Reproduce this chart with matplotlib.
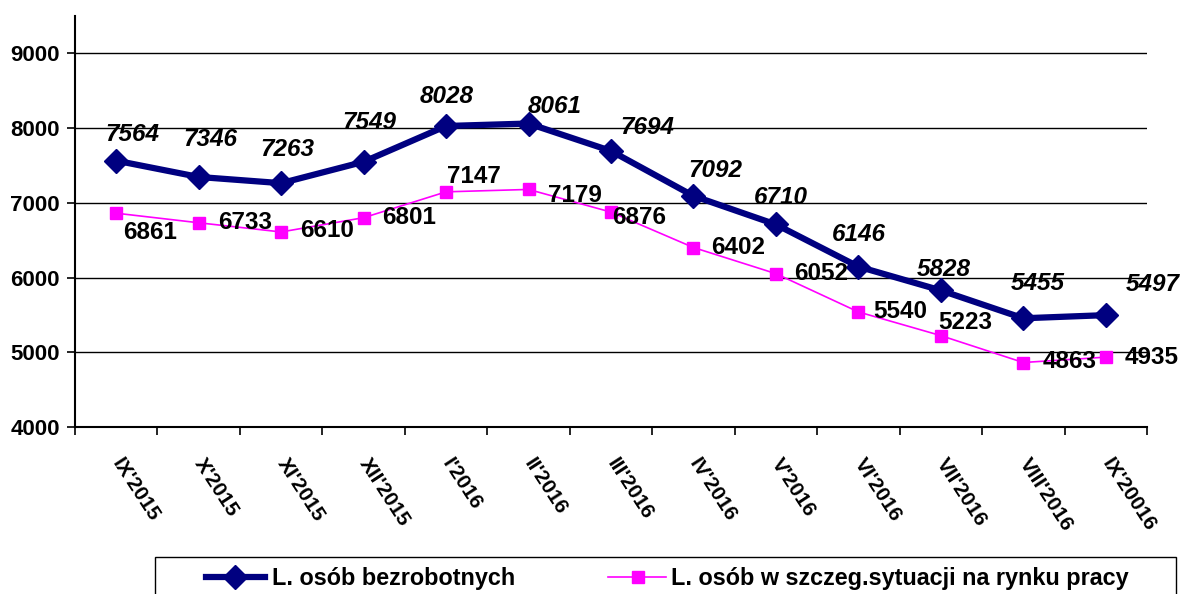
"""Liczba osób bezrobotnych vs osób w szczególnej sytuacji na rynku pracy, IX'2015 - IX'2016."""

import matplotlib

matplotlib.use("Agg")
import matplotlib.pyplot as plt
import numpy as np
from matplotlib.lines import Line2D
from matplotlib.patches import Rectangle
from matplotlib.transforms import ScaledTranslation

MONTHS = [
    "IX'2015", "X'2015", "XI'2015", "XII'2015", "I'2016", "II'2016", "III'2016",
    "IV'2016", "V'2016", "VI'2016", "VII'2016", "VIII'2016", "IX'20016",
]
UNEMPLOYED = [7564, 7346, 7263, 7549, 8028, 8061, 7694, 7092, 6710, 6146, 5828, 5455, 5497]
SPECIAL_SITUATION = [6861, 6733, 6610, 6801, 7147, 7179, 6876, 6402, 6052, 5540, 5223, 4863, 4935]
SERIES_NAMES = ["L. osób bezrobotnych", "L. osób w szczeg.sytuacji na rynku pracy"]
Y_TICKS = [4000, 5000, 6000, 7000, 8000, 9000]

# label placement, in pixels right / down of the point (as in the source chart)
_BLUE_LABEL_OFFSETS = [(16, -26), (12, -37), (6, -34), (6, -39), (1, -29), (26, -17), (36, -23),
                       (22, -25), (5, -27), (0, -32), (3, -21), (14, -35), (47, -31)]
_PINK_LABEL_OFFSETS = [(34, 19), (46, 0), (46, -1), (45, 0), (28, -15), (46, 6), (28, 5),
                       (45, 0), (45, 0), (42, 0), (24, -13), (46, -1), (46, 0)]

_W, _H = 1184, 594
_BLUE = "#000080"
_PINK = "#FF00FF"
_FONT = "Liberation Sans"
_LABEL_SIZE = 17.5
_LEGEND_SIZE = 16.8


def _fx(x):
    return x / _W


def _fy(y):
    return 1 - y / _H


def main() -> None:
    plt.rcParams["font.family"] = [_FONT, "DejaVu Sans"]
    fig = plt.figure(figsize=(_W / 100, _H / 100), dpi=100)
    ax = fig.add_axes([_fx(75), _fy(427), _fx(1147) - _fx(75), _fy(16) - _fy(427)])

    x = np.arange(len(MONTHS))
    ax.plot(x, UNEMPLOYED, color=_BLUE, lw=4.5, marker="D", ms=12, zorder=4)
    ax.plot(x, SPECIAL_SITUATION, color=_PINK, lw=1.2, marker="s", ms=8, zorder=3)

    for xi, v, (dx, dy) in zip(x, UNEMPLOYED, _BLUE_LABEL_OFFSETS):
        ax.annotate(f"{v}", (xi, v), xytext=(dx, -dy), textcoords="offset pixels",
                    ha="center", va="center", fontsize=_LABEL_SIZE, fontweight="bold",
                    fontstyle="italic", color="black", zorder=5)
    for xi, v, (dx, dy) in zip(x, SPECIAL_SITUATION, _PINK_LABEL_OFFSETS):
        ax.annotate(f"{v}", (xi, v), xytext=(dx, -dy), textcoords="offset pixels",
                    ha="center", va="center", fontsize=_LABEL_SIZE, fontweight="bold",
                    color="black", zorder=5)

    ax.set_xlim(-0.5, len(MONTHS) - 0.5)
    ax.set_ylim(4000, 9500)
    ax.set_yticks(Y_TICKS)
    ax.set_yticklabels([str(t) for t in Y_TICKS], fontsize=16, fontweight="bold")
    ax.grid(axis="y", color="black", lw=1.0)
    ax.set_axisbelow(True)

    ax.set_xticks(x)
    ax.set_xticklabels(MONTHS, rotation=-57, ha="left", va="center", rotation_mode="anchor",
                       fontsize=15, fontweight="bold")
    shift = ScaledTranslation(4 / 100, 0, fig.dpi_scale_trans)
    for lbl in ax.get_xticklabels():
        lbl.set_transform(lbl.get_transform() + shift)
    ax.set_xticks(np.arange(len(MONTHS) + 1) - 0.5, minor=True)
    ax.tick_params(axis="x", which="major", length=0, pad=24)
    ax.tick_params(axis="x", which="minor", length=6, width=1.2, direction="out")
    ax.tick_params(axis="y", length=6, width=1.2, direction="out", pad=5)

    for side in ("top", "right"):
        ax.spines[side].set_visible(False)
    for side in ("left", "bottom"):
        ax.spines[side].set_linewidth(1.5)
        ax.spines[side].set_color("black")

    # legend box, cut off by the bottom edge like the source
    fig.add_artist(Rectangle((_fx(155), _fy(600)), _fx(1176) - _fx(155), _fy(557) - _fy(600),
                             transform=fig.transFigure, fill=False, edgecolor="black", lw=1.0))
    fig.add_artist(Line2D([_fx(206), _fx(265)], [_fy(577)] * 2, transform=fig.transFigure,
                          color=_BLUE, lw=4.5))
    fig.add_artist(Line2D([_fx(235)], [_fy(577)], transform=fig.transFigure, color=_BLUE,
                          marker="D", ms=12))
    fig.text(_fx(272), _fy(578), SERIES_NAMES[0], ha="left", va="center", fontsize=_LEGEND_SIZE,
             fontweight="bold")
    fig.add_artist(Line2D([_fx(608), _fx(666)], [_fy(577)] * 2, transform=fig.transFigure,
                          color=_PINK, lw=1.2))
    fig.add_artist(Line2D([_fx(638)], [_fy(577)], transform=fig.transFigure, color=_PINK,
                          marker="s", ms=8))
    fig.text(_fx(671), _fy(578), SERIES_NAMES[1], ha="left", va="center", fontsize=_LEGEND_SIZE,
             fontweight="bold")

    fig.savefig("out.png", dpi=100, facecolor="white")
    plt.close(fig)


if __name__ == "__main__":
    main()
